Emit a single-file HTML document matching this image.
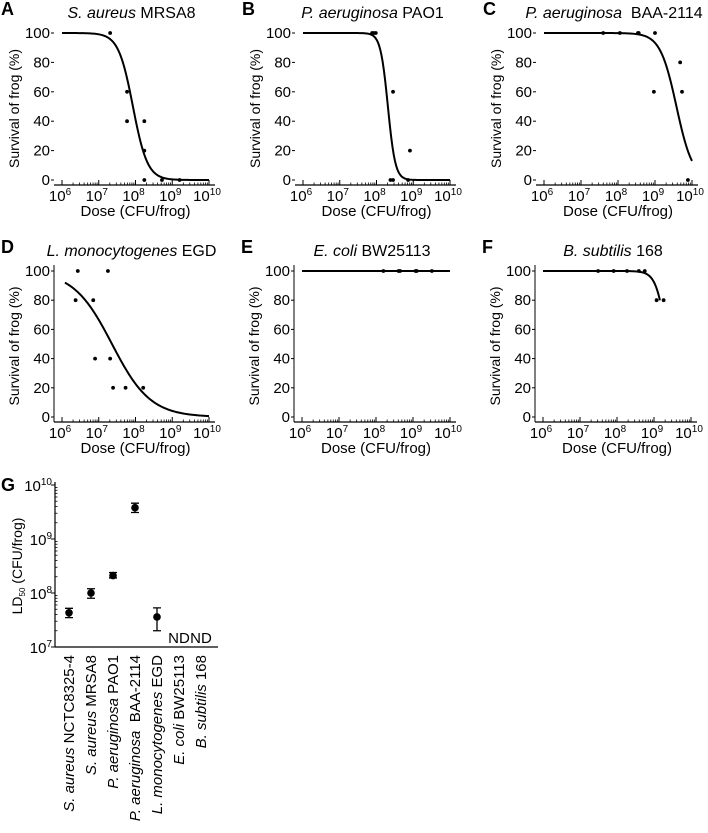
<!DOCTYPE html>
<html><head><meta charset="utf-8"><style>
body{margin:0;background:#fff;width:708px;height:833px;overflow:hidden}
svg{display:block;font-family:"Liberation Sans",Arial,sans-serif}
</style></head><body>
<svg id="fig" width="708" height="833" viewBox="0 0 708 833"></svg>
<script>
// ---- data: survival panels (x values are log10 dose) ----
const titlesItalic=["S. aureus","P. aeruginosa","P. aeruginosa","L. monocytogenes","E. coli","B. subtilis"];
const titlesRest=["\u00a0MRSA8","\u00a0PAO1","\u00a0\u00a0BAA-2114","\u00a0EGD","\u00a0BW25113","\u00a0168"];
const letters=["A","B","C","D","E","F"];
const ptsA_x=[7.31,7.77,7.77,8.24,8.24,8.24,8.72,9.2];
const ptsA_y=[100,60,40,40,20,0,0,0];
const ptsB_x=[7.88,7.93,7.98,8.45,8.38,8.45,8.91,8.86];
const ptsB_y=[100,100,100,60,0,0,20,0];
const ptsC_x=[7.6,8.05,8.54,8.56,9.0,8.97,9.68,9.73,9.89];
const ptsC_y=[100,100,100,100,100,60,80,60,0];
const ptsD_x=[6.37,6.43,6.85,6.9,7.25,7.31,7.39,7.73,8.21];
const ptsD_y=[80,100,80,40,100,40,20,20,20];
const ptsE_x=[8.2,8.61,8.65,9.07,9.1,9.51];
const ptsE_y=[100,100,100,100,100,100];
const ptsF_x=[7.49,7.91,8.27,8.59,8.75,9.07,9.26];
const ptsF_y=[100,100,100,100,100,80,80];
// fitted curve parameters: log LD50, hill slope, start, end
const fitLD50=[7.93,8.31,9.58,7.36,99,9.36];
const fitHill=[2.2,4.3,1.97,0.83,1,3];
const fitStart=[6,6,6,6.08,6,6];
const fitEnd=[10,10,10,10,10,9.16];
const yTicks=[0,20,40,60,80,100];
const xTicks=[6,7,8,9,10];
// ---- data: LD50 panel G ----
const gCats=["NCTC8325-4","MRSA8","PAO1","BAA-2114","EGD","BW25113","168"];
const gItal=["S. aureus\u00a0","S. aureus\u00a0","P. aeruginosa\u00a0","P. aeruginosa\u00a0\u00a0","L. monocytogenes\u00a0","E. coli\u00a0","B. subtilis\u00a0"];
const gVal=[4.3e7,1.0e8,2.1e8,3.8e9,3.6e7,null,null];
const gLo=[3.5e7,8.0e7,1.9e8,3.1e9,2.0e7,null,null];
const gHi=[5.2e7,1.2e8,2.4e8,4.6e9,5.3e7,null,null];
const gTicks=[7,8,9,10];

const NS="http://www.w3.org/2000/svg";
const svg=document.getElementById('fig');
function el(tag,attrs,parent,text){const e=document.createElementNS(NS,tag);for(const k in attrs)e.setAttribute(k,attrs[k]);if(text!=null)e.textContent=text;(parent||svg).appendChild(e);return e;}
function sup(t,base,exp){t.appendChild(document.createTextNode(base));const s=document.createElementNS(NS,'tspan');s.setAttribute('dy','-6');s.setAttribute('font-size','10');s.textContent=exp;t.appendChild(s);}

const ptsX=[ptsA_x,ptsB_x,ptsC_x,ptsD_x,ptsE_x,ptsF_x];
const ptsY=[ptsA_y,ptsB_y,ptsC_y,ptsD_y,ptsE_y,ptsF_y];
const colX=[[62,209],[303,450],[544,692],[62,209],[302,450],[543,691]];
const rowY=[[33,180,185],[33,180,185],[33,180,185],[271,417,422],[271,417,422],[271,417,422]];

for(let p=0;p<6;p++){
  const [x0,x1]=colX[p],[y100,y0,ay]=rowY[p];
  const ya0=x0-8;
  const g=el('g',{},svg);
  
  
  const sx=v=>x0+(v-6)/4*(x1-x0);
  const sy=v=>y0-(v/100)*(y0-y100);
  const L=el('text',{x:x0-61,y:y100-18,'font-size':18,'font-weight':'bold'},g,letters[p]);
  
  const T=el('text',{x:(x0+x1)/2-4,y:y100-15,'font-size':16,'text-anchor':'middle'},g);
  
  el('tspan',{'font-style':'italic'},T,titlesItalic[p]);el('tspan',{},T,titlesRest[p]);
  // x axis
  const ax=el('line',{x1:ya0,x2:x1+6,y1:ay,y2:ay,stroke:'#000','stroke-width':1.2},g);
  
  if(p>=3){const yl=el('line',{x1:ya0,x2:ya0,y1:y100-6,y2:ay,stroke:'#000','stroke-width':1},g);}
  for(let d=6;d<10;d++)for(let m=2;m<10;m++){const xx=sx(d+Math.log10(m));el('line',{x1:xx,x2:xx,y1:ay,y2:ay-2.5,stroke:'#000','stroke-width':0.8},g);}
  xTicks.forEach(t=>{const xx=sx(t);el('line',{x1:xx,x2:xx,y1:ay,y2:ay-5,stroke:'#000','stroke-width':1},g);
    const tt=el('text',{x:xx-2,y:ay+16,'font-size':15,'text-anchor':'middle'},g);sup(tt,'10',String(t));
    });
  yTicks.forEach(t=>{const yy=sy(t);el('line',{x1:ya0-3,x2:ya0,y1:yy,y2:yy,stroke:'#000','stroke-width':1},g);
    const tt=el('text',{x:ya0-4,y:yy+5,'font-size':15,'text-anchor':'end'},g,String(t));
    });
  const xl=el('text',{x:(x0+x1)/2,y:ay+31,'font-size':15,'text-anchor':'middle'},g,'Dose (CFU/frog)');
  
  const cy=(y0+y100)/2;
  const yt=el('text',{x:0,y:0,'font-size':14,'text-anchor':'middle',transform:`translate(${x0-43},${cy+2}) rotate(-90)`},g,'Survival of frog (%)');
  
  // curve
  let d='';const n=120;
  for(let i=0;i<=n;i++){const lx=fitStart[p]+(fitEnd[p]-fitStart[p])*i/n;const v=100/(1+Math.pow(10,(lx-fitLD50[p])*fitHill[p]));d+=(i?'L':'M')+sx(lx).toFixed(2)+' '+sy(v).toFixed(2);}
  const c=el('path',{d:d,fill:'none',stroke:'#000','stroke-width':2},g);
  
  ptsX[p].forEach((v,i)=>{const pt=el('circle',{cx:sx(v),cy:sy(ptsY[p][i]),r:1.9,fill:'#000'},g);
    });
}

// ---- panel G ----
(function(){
  const g=el('g',{},svg);
  
  
  const x0=55,x1=218,yTop=485,yBot=647;
  const sy=v=>yBot-(Math.log10(v)-7)/3*(yBot-yTop);
  const cx=i=>69+i*22;
  const L=el('text',{x:1,y:491,'font-size':18,'font-weight':'bold'},g,'G');
  
  const ya=el('line',{x1:x0,x2:x0,y1:yTop-3,y2:yBot,stroke:'#000','stroke-width':1.2},g);
  
  const xa=el('line',{x1:x0,x2:x1,y1:yBot,y2:yBot,stroke:'#000','stroke-width':1.2},g);
  
  for(let d=7;d<10;d++)for(let m=2;m<10;m++){const yy=sy(m*Math.pow(10,d));el('line',{x1:x0,x2:x0+2.5,y1:yy,y2:yy,stroke:'#000','stroke-width':0.8},g);}
  gTicks.forEach(t=>{const yy=sy(Math.pow(10,t));el('line',{x1:x0-4,x2:x0,y1:yy,y2:yy,stroke:'#000','stroke-width':1},g);
    const tt=el('text',{x:x0-3,y:yy+6,'font-size':15,'text-anchor':'end'},g);sup(tt,'10',String(t));
    });
  const yt=el('text',{x:0,y:0,'font-size':14,'text-anchor':'middle',transform:'translate(22,566) rotate(-90)'},g);
  
  yt.appendChild(document.createTextNode('LD'));
  el('tspan',{'font-size':8,dy:3},yt,'50');el('tspan',{dy:-3},yt,' (CFU/frog)');
  gCats.forEach((c,i)=>{const x=cx(i);
    const lab=el('text',{x:0,y:0,'font-size':15,'text-anchor':'end',transform:`translate(${x+5},${yBot+8}) rotate(-90)`},g);
    
    el('tspan',{'font-style':'italic'},lab,gItal[i]);el('tspan',{},lab,c);
    if(gVal[i]==null){const nd=el('text',{x:x,y:yBot-4,'font-size':15,'text-anchor':'middle'},g,'ND');
      return;}
    const eb=el('path',{d:`M${x} ${sy(gLo[i])}V${sy(gHi[i])}M${x-4} ${sy(gLo[i])}H${x+4}M${x-4} ${sy(gHi[i])}H${x+4}`,stroke:'#000','stroke-width':1.3,fill:'none'},g);
    
    const pt=el('circle',{cx:x,cy:sy(gVal[i]),r:3.8,fill:'#000'},g);
    
  });
})();
</script>
</body></html>
